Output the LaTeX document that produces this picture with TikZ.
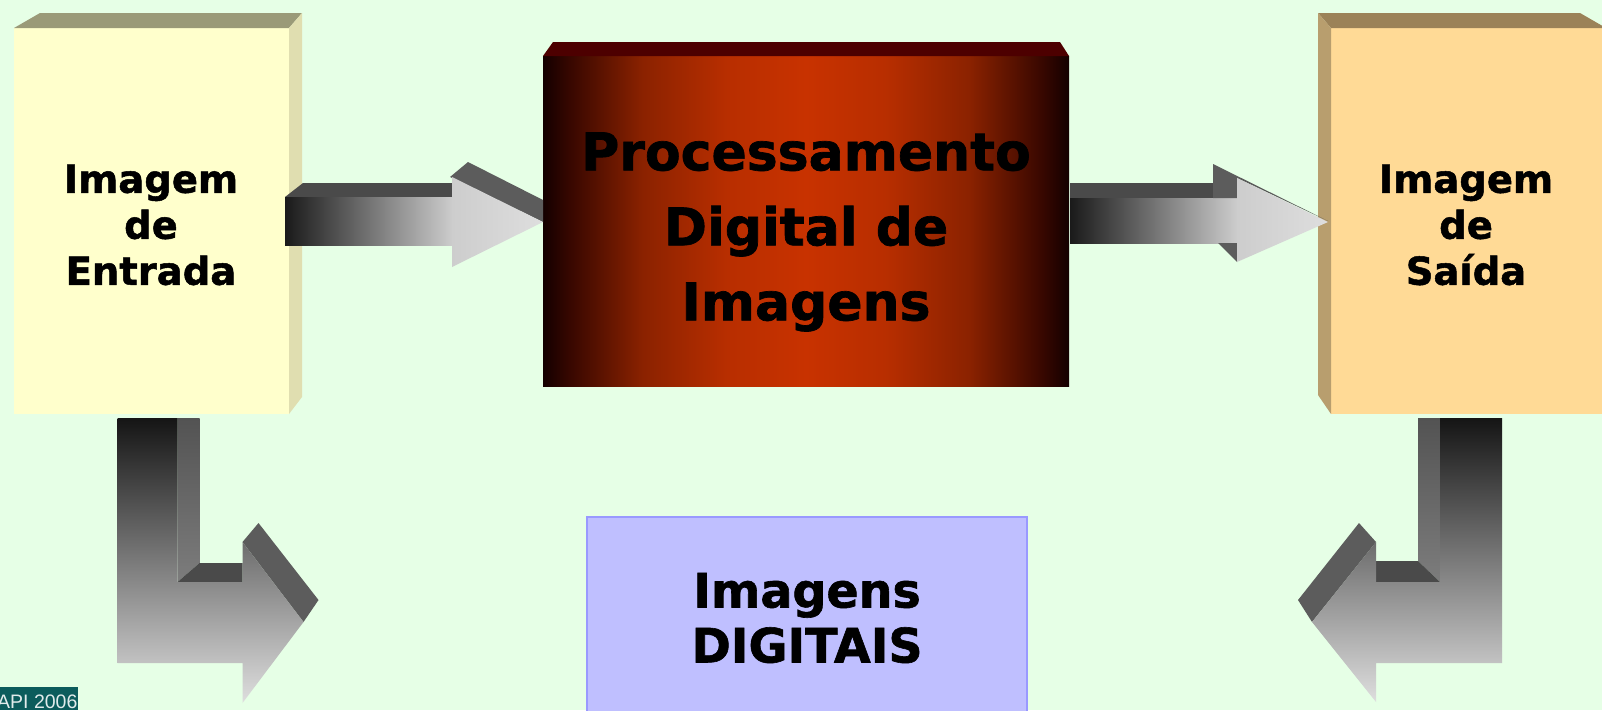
\documentclass[tikz,border=0pt]{standalone}
\usepackage{fontspec}
\setmainfont{DejaVu Sans}[BoldFont={DejaVu Sans Bold}, BoldFeatures={FakeBold=1.3}]
\newfontfamily\apifont{Liberation Sans}
\usetikzlibrary{calc}
\definecolor{bg}{RGB}{230,255,230}
\definecolor{inFront}{RGB}{255,255,204}
\definecolor{inTop}{RGB}{154,154,120}
\definecolor{inSide}{RGB}{224,222,176}
\definecolor{outFront}{RGB}{255,218,150}
\definecolor{outTop}{RGB}{155,130,88}
\definecolor{outSide}{RGB}{184,158,110}
\definecolor{procTop}{RGB}{77,0,0}
\definecolor{procEdge}{RGB}{20,0,0}
\definecolor{procA}{RGB}{55,7,0}
\definecolor{procB}{RGB}{139,34,0}
\definecolor{procC}{RGB}{184,46,0}
\definecolor{procMid}{RGB}{200,50,0}
\definecolor{digFill}{RGB}{191,191,255}
\definecolor{digLine}{RGB}{153,153,255}
\definecolor{apiBg}{RGB}{12,92,92}
\definecolor{apiText}{RGB}{225,235,235}
\definecolor{arDark}{RGB}{26,26,26}
\definecolor{arLight}{RGB}{205,205,205}
\definecolor{arPale}{RGB}{222,222,222}
\definecolor{arTop}{RGB}{74,74,74}
\definecolor{arBevel}{RGB}{92,92,92}
\pgfdeclarehorizontalshading{procshade}{100bp}{color(0bp)=(procEdge); color(25bp)=(procEdge); color(27.5bp)=(procA); color(34.5bp)=(procB); color(42.5bp)=(procC); color(50bp)=(procMid); color(57.5bp)=(procC); color(65.5bp)=(procB); color(72.5bp)=(procA); color(75bp)=(procEdge); color(100bp)=(procEdge)}
\begin{document}
\begin{tikzpicture}[x=1pt,y=-1pt,
  facebox/.style={inner sep=0pt, outer sep=0pt, draw=none},
  boxlabel/.style={inner sep=0pt, align=center, font=\fontsize{38.5}{46}\selectfont\bfseries},
  proclabel/.style={inner sep=0pt, align=center, font=\fontsize{52}{75}\selectfont\bfseries},
  diglabel/.style={inner sep=0pt, align=center, font=\fontsize{47.5}{55}\selectfont\bfseries},
  arrowtop/.style={fill=arTop},
  arrowbevel/.style={fill=arBevel},
  shafth/.style={left color=arDark, right color=arLight},
  headh/.style={left color=arLight, right color=arPale}
]
\useasboundingbox (0,0) rectangle (1602,710);
\fill[bg] (0,0) rectangle (1602,710);

% ---------- left box ----------
\node[facebox, fill=inFront, minimum width=275pt, minimum height=386pt] (in) at (151.5,221) {};
\fill[inTop] (in.north west) -- ($(in.north west)+(26,-15)$) -- ($(in.north east)+(13,-15)$) -- (in.north east) -- cycle;
\fill[inSide] (in.north east) -- ($(in.north east)+(13,-15)$) -- ($(in.south east)+(13,-17)$) -- (in.south east) -- cycle;
\node[boxlabel] (intext) at (151,225) {Imagem\\de\\Entrada};

% ---------- right box ----------
\node[facebox, fill=outFront, minimum width=271pt, minimum height=386pt] (out) at (1466.5,221) {};
\fill[outTop] ($(out.north west)+(-13,-15)$) -- ($(out.north east)+(-22,-15)$) -- ($(out.north east)+(4,0)$) -- (out.north west) -- cycle;
\fill[outSide] ($(out.north west)+(-13,-15)$) -- (out.north west) -- (out.south west) -- ($(out.south west)+(-13,-19)$) -- cycle;
\node[boxlabel] (outtext) at (1466,225) {Imagem\\de\\Sa\'ida};

% ---------- centre box ----------
\node[facebox, shading=procshade, minimum width=526pt, minimum height=330pt] (proc) at (806,221) {};
\fill[procTop] (proc.north west) -- ($(proc.north west)+(10,-14)$) -- ($(proc.north east)+(-9,-14)$) -- (proc.north east) -- cycle;

% ---------- arrow: input -> processing ----------
\begin{scope}[shift={(in.east)}]
  \fill[arrowtop] (-4,-24) -- (14,-38) -- (163,-38) -- (163,-24) -- cycle;
  \shade[shafth] (-4,-24) rectangle (164,24);
  \fill[arrowbevel] (161,-44) -- (179,-59) -- (254,-21) -- (254,1) -- cycle;
  \shade[headh] (163,-44) -- (254,1) -- (163,46) -- cycle;
\end{scope}
\draw[draw=none] (in.east) -- (proc.west);

% ---------- arrow: processing -> output ----------
\begin{scope}[shift={(proc.east)}]
  \fill[arrowtop] (1,-38) rectangle (168,-23);
  \shade[shafth] (1,-23) rectangle (169,22);
  \fill[arrowbevel] (144,-57) -- (259,0) -- (168,-43) -- (168,-23) -- (144,-23) -- cycle;
  \fill[arrowbevel] (149,22) -- (168,22) -- (168,41) -- cycle;
  \shade[headh] (168,-43) -- (259,1) -- (168,41) -- cycle;
\end{scope}
\draw[draw=none] (proc.east) -- (out.west);

% ---------- bent arrow under input ----------
\begin{scope}[shift={(in.south)}]
  \shade[top color=arBevel!90!black, bottom color=arBevel!80!white] (26,4) -- (48,4) -- (48,149) -- (26,168) -- cycle;
  \fill[arTop] (26,168) -- (48,149) -- (91,149) -- (91,168) -- cycle;
  \fill[arrowbevel] (91,128) -- (107,109) -- (167,186) -- (152,208) -- cycle;
  \shade[top color=arDark!80!black, middle color=gray!72, bottom color=arPale]
    (-34,4) -- (26,4) -- (26,168) -- (91,168) -- (91,128) -- (152,208) -- (91,289) -- (91,249) -- (-34,249) -- cycle;
\end{scope}
\coordinate (inturn) at ($(in.south)+(152,208)$);
\draw[draw=none] (in.south) -- (inturn);

% ---------- bent arrow under output ----------
\begin{scope}[shift={(out.south)}]
  \shade[top color=arBevel!90!black, bottom color=arBevel!80!white] (-48.5,4) -- (-26.5,4) -- (-26.5,168) -- (-48.5,147) -- cycle;
  \fill[arTop] (-90.5,147) -- (-48.5,147) -- (-26.5,168) -- (-90.5,168) -- cycle;
  \fill[arrowbevel] (-107.5,109) -- (-90.5,128) -- (-154.5,208) -- (-168.5,186) -- cycle;
  \shade[top color=arDark!80!black, middle color=gray!72, bottom color=arPale]
    (-26.5,4) -- (35.5,4) -- (35.5,249) -- (-90.5,249) -- (-90.5,288) -- (-154.5,208) -- (-90.5,128) -- (-90.5,168) -- (-26.5,168) -- cycle;
\end{scope}
\coordinate (outturn) at ($(out.south)+(-154.5,208)$);
\draw[draw=none] (out.south) -- (outturn);

% ---------- centre texts ----------
\node[proclabel] (proctext) at (806,232) {Processamento\\Digital de\\Imagens};

% ---------- digital images box ----------
\node[facebox, fill=digFill, draw=digLine, line width=2pt, minimum width=440pt, minimum height=205pt] (dig) at (807,619.5) {};
\node[diglabel] (digtext) at (807,618) {Imagens\\DIGITAIS};

% ---------- footer label ----------
\node[facebox, fill=apiBg, anchor=south west, minimum width=78pt, minimum height=23pt] (apibox) at (0,710) {};
\node[inner sep=0pt, anchor=base west, text=apiText, font=\apifont\fontsize{19.5}{19.5}\selectfont] (apitext) at (-3,708) {API 2006};
\end{tikzpicture}
\end{document}
